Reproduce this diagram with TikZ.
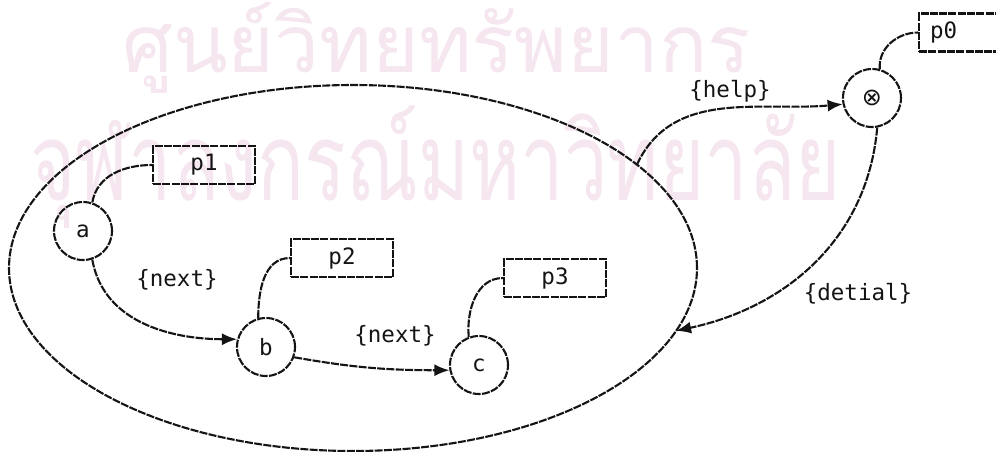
\documentclass[tikz,border=0pt]{standalone}
\usepackage{fontspec}
\newfontfamily\diagfont{DejaVu Sans Mono}
\newfontfamily\symbolfont{DejaVu Sans}
\newfontfamily\thaifont[Script=Thai]{Loma}
\usetikzlibrary{arrows.meta,shapes.geometric}
\definecolor{ink}{RGB}{20,20,20}
\definecolor{stamp}{RGB}{245,230,240}

\begin{document}
\begin{tikzpicture}[x=1pt,y=-1pt,
  every node/.style={font=\diagfont\fontsize{22.5}{26}\selectfont, text=ink},
  wire/.style={draw=ink, line width=2.1pt, dash pattern=on 8pt off 1.3pt},
  state/.style={circle, wire, minimum size=58pt, inner sep=0pt},
  attr/.style={rectangle, wire, minimum width=102pt, minimum height=38pt, inner sep=0pt},
  arc/.style={wire, -{Latex[length=15pt,width=12pt]}},
  lbl/.style={inner sep=1pt},
  stampline/.style={font=\thaifont\fontsize{80}{90}\selectfont, text=stamp, inner sep=0pt, anchor=base west}
]
\useasboundingbox (0,0) rectangle (996,451);
\fill[white] (0,0) rectangle (996,451);

% library stamp in the background
\node[stampline] (stampA) at (122,72) {ศูนย์วิทยทรัพยากร};
\node[stampline] (stampB) at (30,200) {\scalebox{0.97}[1.35]{จุฬาลงกรณ์มหาวิทยาลัย}};

% the enclosing scope
\node[ellipse, wire, minimum width=688pt, minimum height=366pt, inner sep=0pt, outer sep=0pt] (scope) at (353,268) {};

% states
\node[state] (a) at (83,231) {a};
\node[state] (b) at (266,347) {b};
\node[state] (c) at (479,365) {c};
\node[state] (hub) at (872,98) {\symbolfont\fontsize{24}{26}\selectfont ⊗};

% attached properties
\node[attr] (p1) at (204,165) {p1};
\node[attr] (p2) at (342,258) {p2};
\node[attr] (p3) at (555,278) {p3};
\node[attr, minimum width=0pt, text width=80pt, inner xsep=11pt, align=left, anchor=west] (p0) at (918,32.5) {p0};

\draw[wire] (a.72) to[out=80,in=180] (p1.west);
\draw[wire] (b.105) to[out=90,in=180] (p2.west);
\draw[wire] (c.110) to[out=95,in=180] (p3.west);
\draw[wire] (hub.75) to[out=95,in=180] (p0.west);

% transitions
\draw[arc] (a.-72) to[out=-80,in=180] (b.165);
\draw[arc] (b.-20) to[out=-10,in=180] (c.190);
\draw[arc] (scope.20) to[out=65,in=185] (hub.192);
\draw[arc] (hub.-80) to[out=-95,in=12] (scope.-11);

\node[lbl] (l1) at (177,280) {\{next\}};
\node[lbl] (l2) at (395,336) {\{next\}};
\node[lbl] (l3) at (730,91) {\{help\}};
\node[lbl] (l4) at (858,294) {\{detial\}};
\end{tikzpicture}
\end{document}
